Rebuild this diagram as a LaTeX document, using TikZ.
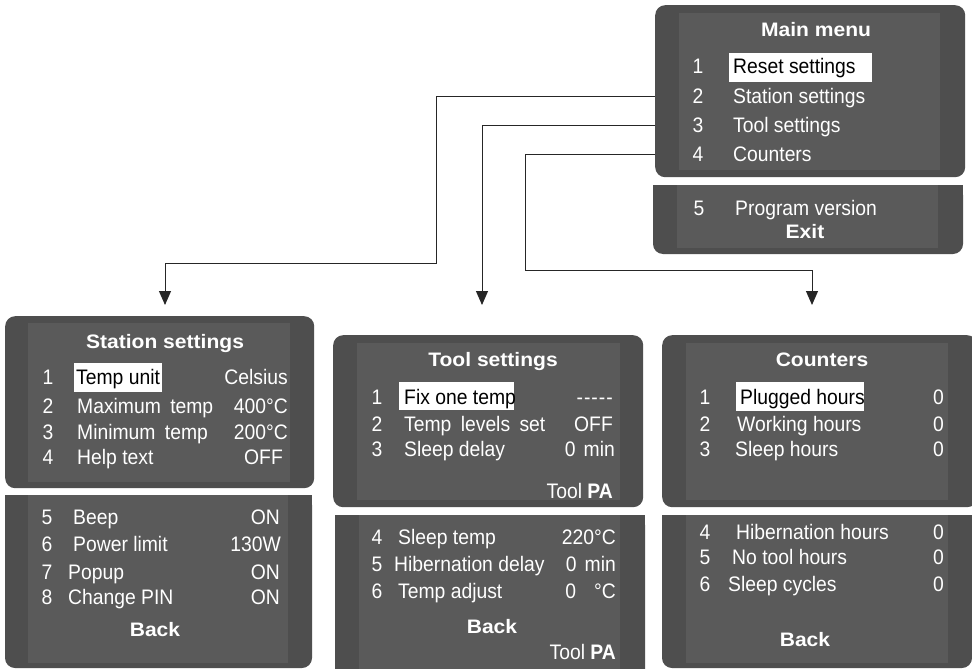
\documentclass[tikz,border=0pt]{standalone}
\usepackage{fontspec}
\setmainfont{Liberation Sans}[FakeStretch=0.92]
\newfontfamily\headfont{Liberation Sans}[FakeStretch=1.08]
\definecolor{panelgray}{RGB}{78,78,78}
\definecolor{screengray}{RGB}{90,90,90}
\usetikzlibrary{positioning,arrows.meta}

\tikzset{
  outerbox/.style={fill=panelgray,rounded corners=10pt,anchor=north west,inner sep=0pt},
  head/.style={text=white,inner sep=0pt,anchor=mid,yshift=-4pt,font=\headfont\bfseries\fontsize{19.5}{21}\selectfont},
  num/.style={text=white,inner sep=0pt,anchor=mid,yshift=-4pt,font=\fontsize{21}{23}\selectfont},
  item/.style={text=white,inner sep=0pt,anchor=mid west,yshift=-4pt,font=\fontsize{21}{23}\selectfont},
  hlitem/.style={item,text=black},
  val/.style={text=white,inner sep=0pt,anchor=mid east,yshift=-4pt,font=\fontsize{21}{23}\selectfont},
  link/.style={draw=black!85,line width=1pt,-{Triangle[width=12pt,length=14pt]}}
}

\begin{document}
\begin{tikzpicture}[x=1pt,y=-1pt]
  \useasboundingbox[fill=white] (0,0) rectangle (972,669);

  % main menu
  \node[outerbox,minimum width=310pt,minimum height=172pt] (mm) at (655,5) {};
  \fill[screengray] (679,13) rectangle (940,170);
  \fill[panelgray,rounded corners=10pt] (653,185) rectangle (963,254);
  \fill[panelgray] (653,185) rectangle (963,215);
  \fill[screengray] (677,185) rectangle (938,248);
  \fill[white] (729,53) rectangle (872,82);
  \node[head] (mmhead) at (816,30) {Main menu};
  \node[num] (mm1) at (698,67) {1};
  \node[hlitem] (mmreset) at (733,67) {Reset settings};
  \node[num] (mm2) at (698,97) {2};
  \node[item] (mmstation) at (733,97) {Station settings};
  \node[num] (mm3) at (698,126) {3};
  \node[item] (mmtool) at (733,126) {Tool settings};
  \node[num] (mm4) at (698,155) {4};
  \node[item] (mmcount) at (733,155) {Counters};
  \node[num] (mm5) at (699,209) {5};
  \node[item] (mmversion) at (735,209) {Program version};
  \node[head] (mmexit) at (805,232) {Exit};

  % station settings
  \node[outerbox,minimum width=309pt,minimum height=172pt] (ss) at (5,316) {};
  \fill[screengray] (28,323) rectangle (290,482);
  \fill[panelgray,rounded corners=10pt] (5,495) rectangle (312,668);
  \fill[panelgray] (5,495) rectangle (312,540);
  \fill[screengray] (28,495) rectangle (288,663);
  \fill[white] (74,363) rectangle (162,392);
  \node[head] (sshead) at (165,342) {Station settings};
  \node[num] (ss1) at (48,378) {1};
  \node[hlitem] (ssunit) at (76,378) {Temp unit};
  \node[val] (ssunitv) at (288,378) {Celsius};
  \node[num] (ss2) at (48,407) {2};
  \node[item] (ssmax) at (77,407) {Maximum\hspace{4pt} temp};
  \node[val] (ssmaxv) at (288,407) {400°C};
  \node[num] (ss3) at (48,433) {3};
  \node[item] (ssmin) at (77,433) {Minimum\hspace{4pt} temp};
  \node[val] (ssminv) at (288,433) {200°C};
  \node[num] (ss4) at (48,458) {4};
  \node[item] (sshelp) at (77,458) {Help text};
  \node[val] (sshelpv) at (283,458) {OFF};
  \node[num] (ss5) at (47,518) {5};
  \node[item] (ssbeep) at (73,518) {Beep};
  \node[val] (ssbeepv) at (280,518) {ON};
  \node[num] (ss6) at (47,545) {6};
  \node[item] (sspower) at (73,545) {Power limit};
  \node[val] (sspowerv) at (281,545) {130W};
  \node[num] (ss7) at (47,573) {7};
  \node[item] (sspopup) at (68,573) {Popup};
  \node[val] (sspopupv) at (280,573) {ON};
  \node[num] (ss8) at (47,598) {8};
  \node[item] (sspin) at (68,598) {Change PIN};
  \node[val] (sspinv) at (280,598) {ON};
  \node[head] (ssback) at (155,630) {Back};

  % tool settings
  \node[outerbox,minimum width=310pt,minimum height=172pt] (ts) at (333,335) {};
  \fill[screengray] (357,343) rectangle (620,500);
  \fill[panelgray,rounded corners=10pt] (335,515) rectangle (645,690);
  \fill[panelgray] (335,515) rectangle (645,560);
  \fill[screengray] (359,515) rectangle (620,669);
  \fill[white] (399,382) rectangle (514,410);
  \node[head] (tshead) at (493,360) {Tool settings};
  \node[num] (ts1) at (377,398) {1};
  \node[hlitem] (tsfix) at (404,398) {Fix one temp};
  \node[val] (tsfixv) at (613,398) {{-}\kern1pt{-}\kern1pt{-}\kern1pt{-}\kern1pt{-}};
  \node[num] (ts2) at (377,425) {2};
  \node[item] (tslevels) at (404,425) {Temp\hspace{4pt} levels\hspace{4pt} set};
  \node[val] (tslevelsv) at (613,425) {OFF};
  \node[num] (ts3) at (377,450) {3};
  \node[item] (tsdelay) at (404,450) {Sleep delay};
  \node[val] (tsdelayv) at (615,450) {0\hspace{8pt}min};
  \node[val] (tspa) at (613,492) {Tool \textbf{PA}};
  \node[num] (ts4) at (377,538) {4};
  \node[item] (tssleep) at (398,538) {Sleep temp};
  \node[val] (tssleepv) at (616,538) {220°C};
  \node[num] (ts5) at (377,565) {5};
  \node[item] (tshib) at (394,565) {Hibernation delay};
  \node[val] (tshibv) at (616,565) {0\hspace{8pt}min};
  \node[num] (ts6) at (377,592) {6};
  \node[item] (tsadj) at (398,592) {Temp adjust};
  \node[val] (tsadjv) at (616,592) {0\hspace{18pt}°C};
  \node[head] (tsback) at (492,627) {Back};
  \node[val] (tspab) at (616,653) {Tool \textbf{PA}};

  % counters
  \node[outerbox,minimum width=315pt,minimum height=172pt] (ct) at (662,335) {};
  \fill[screengray] (686,343) rectangle (948,500);
  \fill[panelgray,rounded corners=10pt] (662,515) rectangle (972,668);
  \fill[panelgray] (662,515) rectangle (972,560);
  \fill[screengray] (686,515) rectangle (948,663);
  \fill[white] (736,382) rectangle (864,411);
  \node[head] (cthead) at (822,360) {Counters};
  \node[num] (ct1) at (705,398) {1};
  \node[hlitem] (ctplug) at (740,398) {Plugged hours};
  \node[val] (ctplugv) at (944,398) {0};
  \node[num] (ct2) at (705,425) {2};
  \node[item] (ctwork) at (737,425) {Working hours};
  \node[val] (ctworkv) at (944,425) {0};
  \node[num] (ct3) at (705,450) {3};
  \node[item] (ctsleep) at (735,450) {Sleep hours};
  \node[val] (ctsleepv) at (944,450) {0};
  \node[num] (ct4) at (705,533) {4};
  \node[item] (cthib) at (736,533) {Hibernation hours};
  \node[val] (cthibv) at (944,533) {0};
  \node[num] (ct5) at (705,558) {5};
  \node[item] (ctnotool) at (732,558) {No tool hours};
  \node[val] (ctnotoolv) at (944,558) {0};
  \node[num] (ct6) at (705,585) {6};
  \node[item] (ctcycles) at (728,585) {Sleep cycles};
  \node[val] (ctcyclesv) at (944,585) {0};
  \node[head] (ctback) at (805,640) {Back};

  % connectors
  \coordinate (ssin) at (165,305);
  \coordinate (tsin) at (482,305);
  \coordinate (ctin) at (812,305);
  \draw[link] (mm2 -| mm.west) -| (436,263) -| (ssin);
  \draw[link] (mm3 -| mm.west) -| (tsin);
  \draw[link] (mm4 -| mm.west) -| (525,270) -| (ctin);
\end{tikzpicture}
\end{document}
